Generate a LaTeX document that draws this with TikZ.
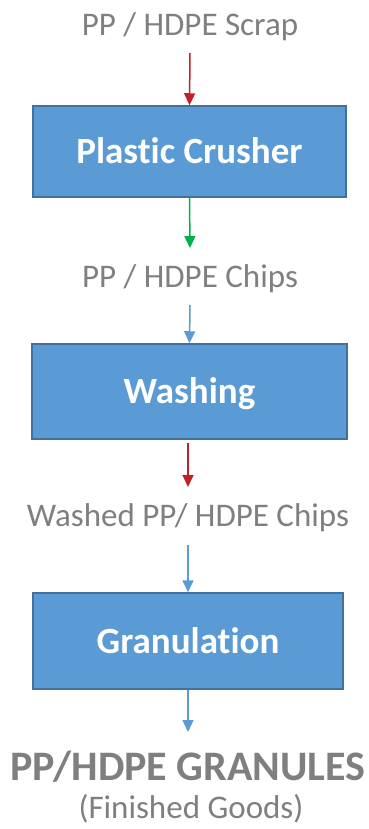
\documentclass[tikz,border=0pt]{standalone}
\usepackage{fontspec}
\setmainfont[Ligatures=NoCommon]{Carlito}
\usetikzlibrary{arrows.meta}
\definecolor{stagefill}{HTML}{5B9BD5}
\definecolor{stageline}{HTML}{41719C}
\definecolor{flowred}{HTML}{C0202A}
\definecolor{flowgreen}{HTML}{00B050}
\definecolor{labelgray}{HTML}{7F7F7F}
\tikzset{
  stage/.style={draw=stageline, line width=1.5pt, fill=stagefill, text=white,
    inner sep=0pt, minimum width=313pt, text height=24pt, text depth=0pt,
    font=\fontsize{37}{44}\selectfont\bfseries},
  flowlabel/.style={text=labelgray, inner sep=0pt, anchor=base,
    font=\fontsize{33}{40}\selectfont},
  flow/.style={line width=1.5pt, -{Triangle[length=12pt,width=11pt]}},
}
\begin{document}
\begin{tikzpicture}[x=1pt,y=-1pt]
\useasboundingbox (0,0) rectangle (368,829);

% Marking the process stages
\node [stage, minimum height=91pt] (crusher) at (189.5,151.5) {Plastic Crusher};
\node [stage, minimum width=315pt, minimum height=95pt] (washing) at (189.5,391.5) {Washing};
\node [stage, minimum width=310pt, minimum height=96pt] (granulation) at (188,641) {Granulation};

% Marking the materials
\node [flowlabel] (scrap) at (190,36) {PP / HDPE Scrap};
\node [flowlabel] (chips) at (190,287) {PP / HDPE Chips};
\node [flowlabel] (washed) at (188,526) {Washed PP/ HDPE Chips};
\node [flowlabel, font=\fontsize{42}{50}\selectfont\bfseries] (granules) at (188,780) {PP/HDPE GRANULES};
\node [flowlabel] (goods) at (191,818) {(Finished Goods)};

% Drawing the flow arrows
\draw [flow, flowred] ([yshift=-17pt]scrap.base) -- (crusher.north);
\draw [flow, flowgreen] (crusher.south) -- ([yshift=39pt]chips.base);
\draw [flow, stagefill] ([yshift=-18pt]chips.base) -- (washing.north);
\draw [flow, flowred] ([yshift=-3pt]washing.south -| washed.base) -- ([yshift=39pt]washed.base);
\draw [flow, stagefill] ([yshift=-19pt]washed.base) -- (granulation.north -| washed.base);
\draw [flow, stagefill] (granulation.south) -- ([yshift=48pt]granules.base);
\end{tikzpicture}
\end{document}
